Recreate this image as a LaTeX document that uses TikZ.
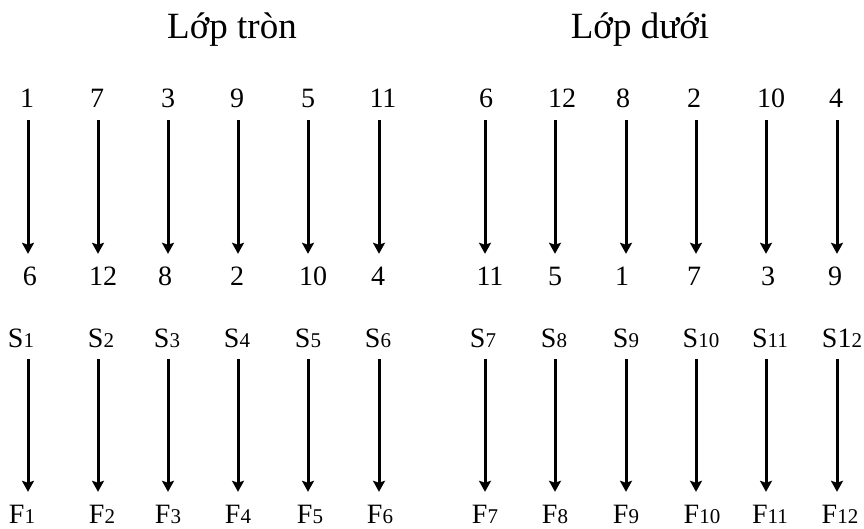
\documentclass[tikz,border=0pt]{standalone}
\usepackage{fontspec}
\setmainfont{Liberation Serif}
\usetikzlibrary{arrows.meta}

\tikzset{
    num/.style={font=\fontsize{28}{28}\selectfont, inner sep=0pt, text height=19pt, text depth=0pt, anchor=base},
    heading/.style={font=\fontsize{37}{37}\selectfont, inner sep=0pt, anchor=base},
    flow/.style={-{Stealth[length=11pt, width=12pt, inset=2pt]}, line width=3pt,
        shorten <=12pt, shorten >=12pt}
}
\newcommand{\smalldigit}[1]{{\fontsize{21}{21}\selectfont #1}}

\begin{document}
\begin{tikzpicture}[x=1pt, y=-1pt]
    \useasboundingbox (0,0) rectangle (864,529);

    % 1. Headings of the two layers
    \node[heading] (tron) at (232,39) {Lớp tròn};
    \node[heading] (duoi) at (640,39) {Lớp dưới};

    % 2. Number pairs with their arrows
    \foreach \i/\ax/\tx/\tnum/\bx/\bnum in {
        1/28/27/1/30/6, 2/98/97/7/103/12, 3/168/168/3/165/8,
        4/238/237/9/237/2, 5/308/308/5/313/10, 6/379/383/11/378/4,
        7/485/486/6/490/11, 8/555/562/12/555/5, 9/626/623/8/622/1,
        10/696/694/2/694/7, 11/766/771/10/768/3, 12/837/836/4/835/9} {
        \coordinate (c\i) at (\ax,0);
        \node[num] (t\i) at (\tx,108) {\tnum};
        \node[num] (b\i) at (\bx,285) {\bnum};
        \draw[flow] (t\i.south -| c\i) -- (b\i.north -| c\i);
    }

    % 3. S and F rows
    \foreach \i/\sx/\stext/\fx in {
        1/21/{S\smalldigit{1}}/22, 2/101/{S\smalldigit{2}}/102, 3/167/{S\smalldigit{3}}/168,
        4/237/{S\smalldigit{4}}/238, 5/308/{S\smalldigit{5}}/310, 6/378/{S\smalldigit{6}}/380,
        7/483/{S\smalldigit{7}}/485, 8/554/{S\smalldigit{8}}/555, 9/626/{S\smalldigit{9}}/626,
        10/701/{S\smalldigit{10}}/702, 11/770/{S\smalldigit{11}}/770, 12/842/{S1\smalldigit{2}}/840} {
        \node[num] (s\i) at (\sx,347) {\stext};
        \node[num] (f\i) at (\fx,523) {F\smalldigit{\i}};
        \draw[flow] (s\i.south -| c\i) -- (f\i.north -| c\i);
    }
\end{tikzpicture}
\end{document}
